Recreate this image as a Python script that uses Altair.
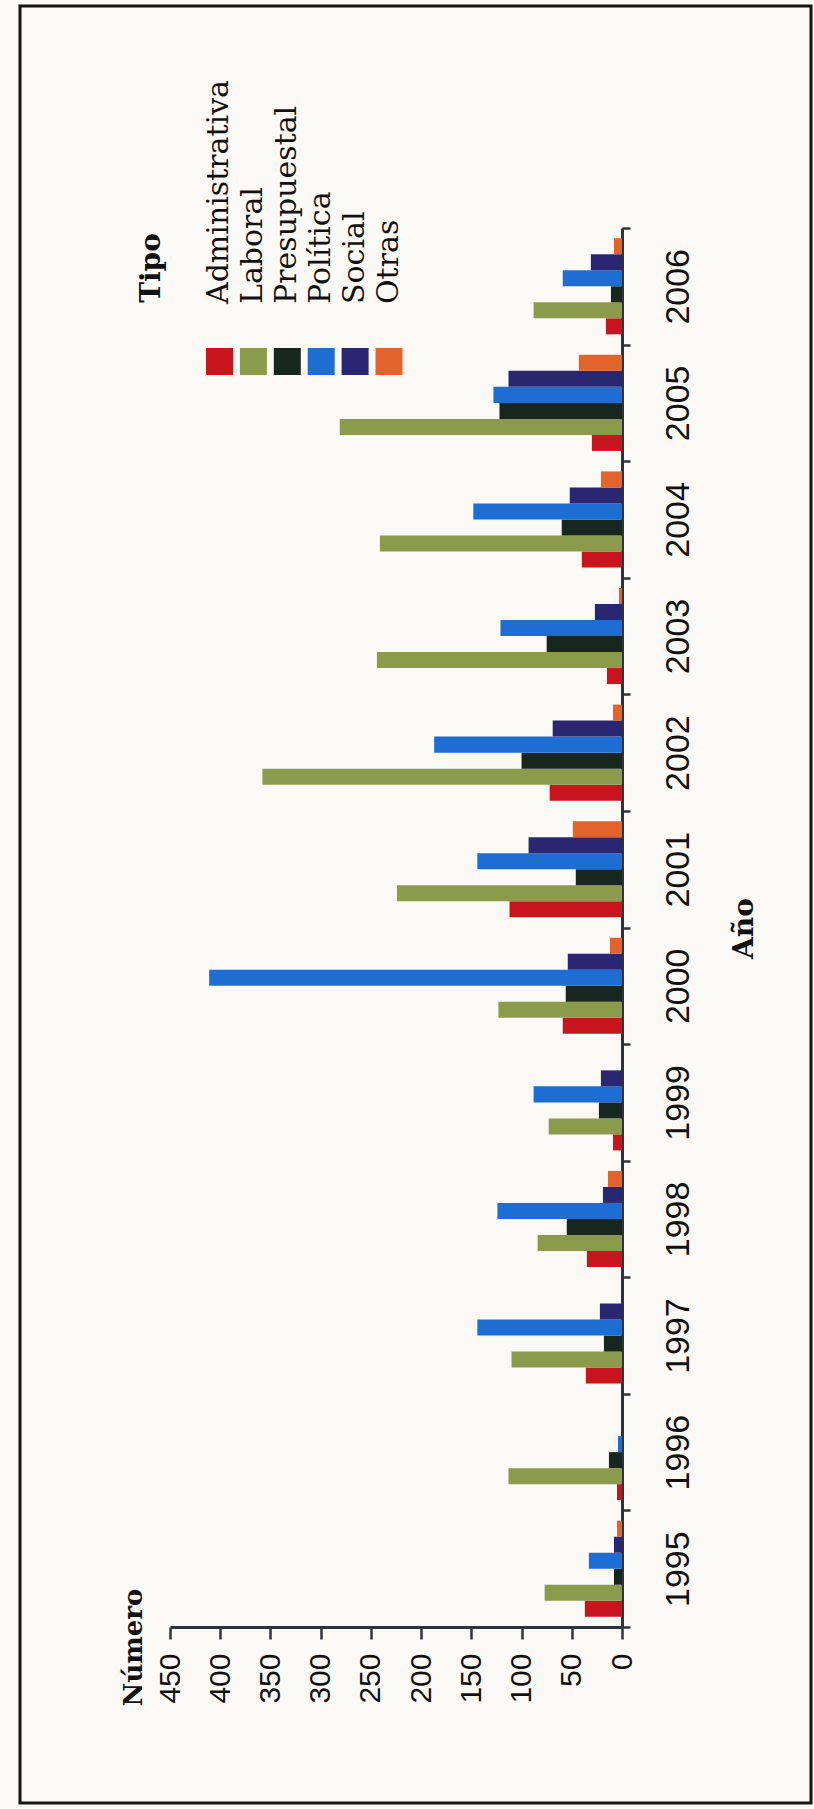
import altair as alt
import pandas as pd

# Conflicts per year, by type
anios = ["1995", "1996", "1997", "1998", "1999", "2000",
         "2001", "2002", "2003", "2004", "2005", "2006"]
tipos = ["Administrativa", "Laboral", "Presupuestal", "Política", "Social", "Otras"]
colores = ["#C8141C", "#8C9A4C", "#17261F", "#1E6DD2", "#2B2672", "#E2632B"]

administrativa = [37, 5, 36, 35, 9, 59, 112, 72, 15, 40, 30, 16]
laboral = [77, 113, 110, 84, 73, 123, 224, 358, 244, 241, 281, 88]
presupuestal = [8, 13, 18, 55, 23, 56, 46, 100, 75, 60, 122, 11]
politica = [33, 4, 144, 124, 88, 411, 144, 187, 121, 148, 128, 59]
social = [8, 0, 22, 19, 21, 54, 93, 69, 27, 52, 113, 31]
otras = [5, 0, 0, 14, 0, 12, 49, 9, 3, 21, 43, 8]

ticks_numero = [0, 50, 100, 150, 200, 250, 300, 350, 400, 450]

series = [administrativa, laboral, presupuestal, politica, social, otras]
rows = []
for tipo, serie in zip(tipos, series):
    for anio, valor in zip(anios, serie):
        rows.append({"anio": anio, "tipo": tipo, "valor": valor})
df = pd.DataFrame(rows)
leyenda = pd.DataFrame({"tipo": tipos})

AXIS_COLOR = "#2F343C"
SERIF = "DejaVu Serif"
SANS = "Liberation Sans"

color = alt.Color("tipo:N", scale=alt.Scale(domain=tipos, range=colores), legend=None)

# Page is printed sideways: values grow to the left, years run bottom to top
barras = alt.Chart(df).mark_bar().encode(
    x=alt.X(
        "valor:Q",
        scale=alt.Scale(domain=[0, 450], reverse=True, nice=False),
        axis=alt.Axis(
            values=ticks_numero, orient="bottom", grid=False,
            labelAngle=270, labelAlign="right", labelBaseline="middle",
            labelFont=SANS, labelFontSize=30, labelColor="#111111",
            tickSize=12, labelPadding=14, tickWidth=2.5, tickColor=AXIS_COLOR,
            domainWidth=3, domainColor=AXIS_COLOR,
            title="Número", titleAngle=270, titleFont=SERIF, titleFontWeight="bold",
            titleFontSize=26, titleColor="#111111", titleX=-37, titleY=20,
            titleAlign="center", titleBaseline="middle",
        ),
    ),
    y=alt.Y(
        "anio:O",
        sort="descending",
        scale=alt.Scale(paddingInner=0, paddingOuter=0),
        axis=alt.Axis(
            orient="right", tickBand="extent", grid=False,
            labelAngle=270, labelAlign="center", labelBaseline="top",
            labelFont=SANS, labelFontSize=34, labelColor="#111111",
            tickSize=8, labelPadding=31, tickWidth=2.5, tickColor=AXIS_COLOR,
            domainWidth=3, domainColor=AXIS_COLOR,
            title="Año", titleAngle=270, titleFont=SERIF, titleFontWeight="bold",
            titleFontSize=28, titleColor="#111111", titleX=122, titleY=700,
            titleAlign="center", titleBaseline="middle",
        ),
    ),
    yOffset=alt.YOffset(
        "tipo:N",
        sort=tipos[::-1],
        scale=alt.Scale(paddingInner=0, paddingOuter=0.64),
    ),
    color=color,
)

# Hand-built legend, turned like the rest of the page
muestras = alt.Chart(leyenda).mark_square(size=729, opacity=1).encode(
    x=alt.X("tipo:N", scale=alt.Scale(domain=tipos, range=[49.5, 219], padding=0), axis=None),
    y=alt.value(133.5),
    color=color,
)

etiquetas = alt.Chart(leyenda).mark_text(
    angle=270, align="left", baseline="alphabetic",
    font=SERIF, fontSize=30, color="#111111",
).encode(
    x=alt.X("tipo:N", scale=alt.Scale(domain=tipos, range=[58, 228], padding=0), axis=None),
    y=alt.value(76),
    text="tipo:N",
)

titulo_leyenda = alt.Chart(pd.DataFrame({"t": ["Tipo"]})).mark_text(
    angle=270, align="center", baseline="middle",
    font=SERIF, fontSize=28, fontWeight="bold", color="#111111",
).encode(x=alt.value(-18), y=alt.value(40), text="t:N")

marco = alt.Chart(pd.DataFrame({"k": [0]})).mark_rect(
    fill="transparent", stroke="#151515", strokeWidth=3,
).encode(
    x=alt.value(-150), x2=alt.value(641),
    y=alt.value(-222), y2=alt.value(1575),
)

chart = (
    alt.layer(marco, barras, muestras, etiquetas, titulo_leyenda)
    .resolve_scale(x="independent", y="independent")
    .properties(
        width=452,
        height=1399,
        padding={"left": 170, "top": 228, "right": 192, "bottom": 182},
        autosize=alt.AutoSizeParams(type="none"),
        background="#FAF9F5",
    )
    .configure_view(stroke=None)
)

chart.save("out.html", embed_options={"renderer": "svg", "actions": False})
